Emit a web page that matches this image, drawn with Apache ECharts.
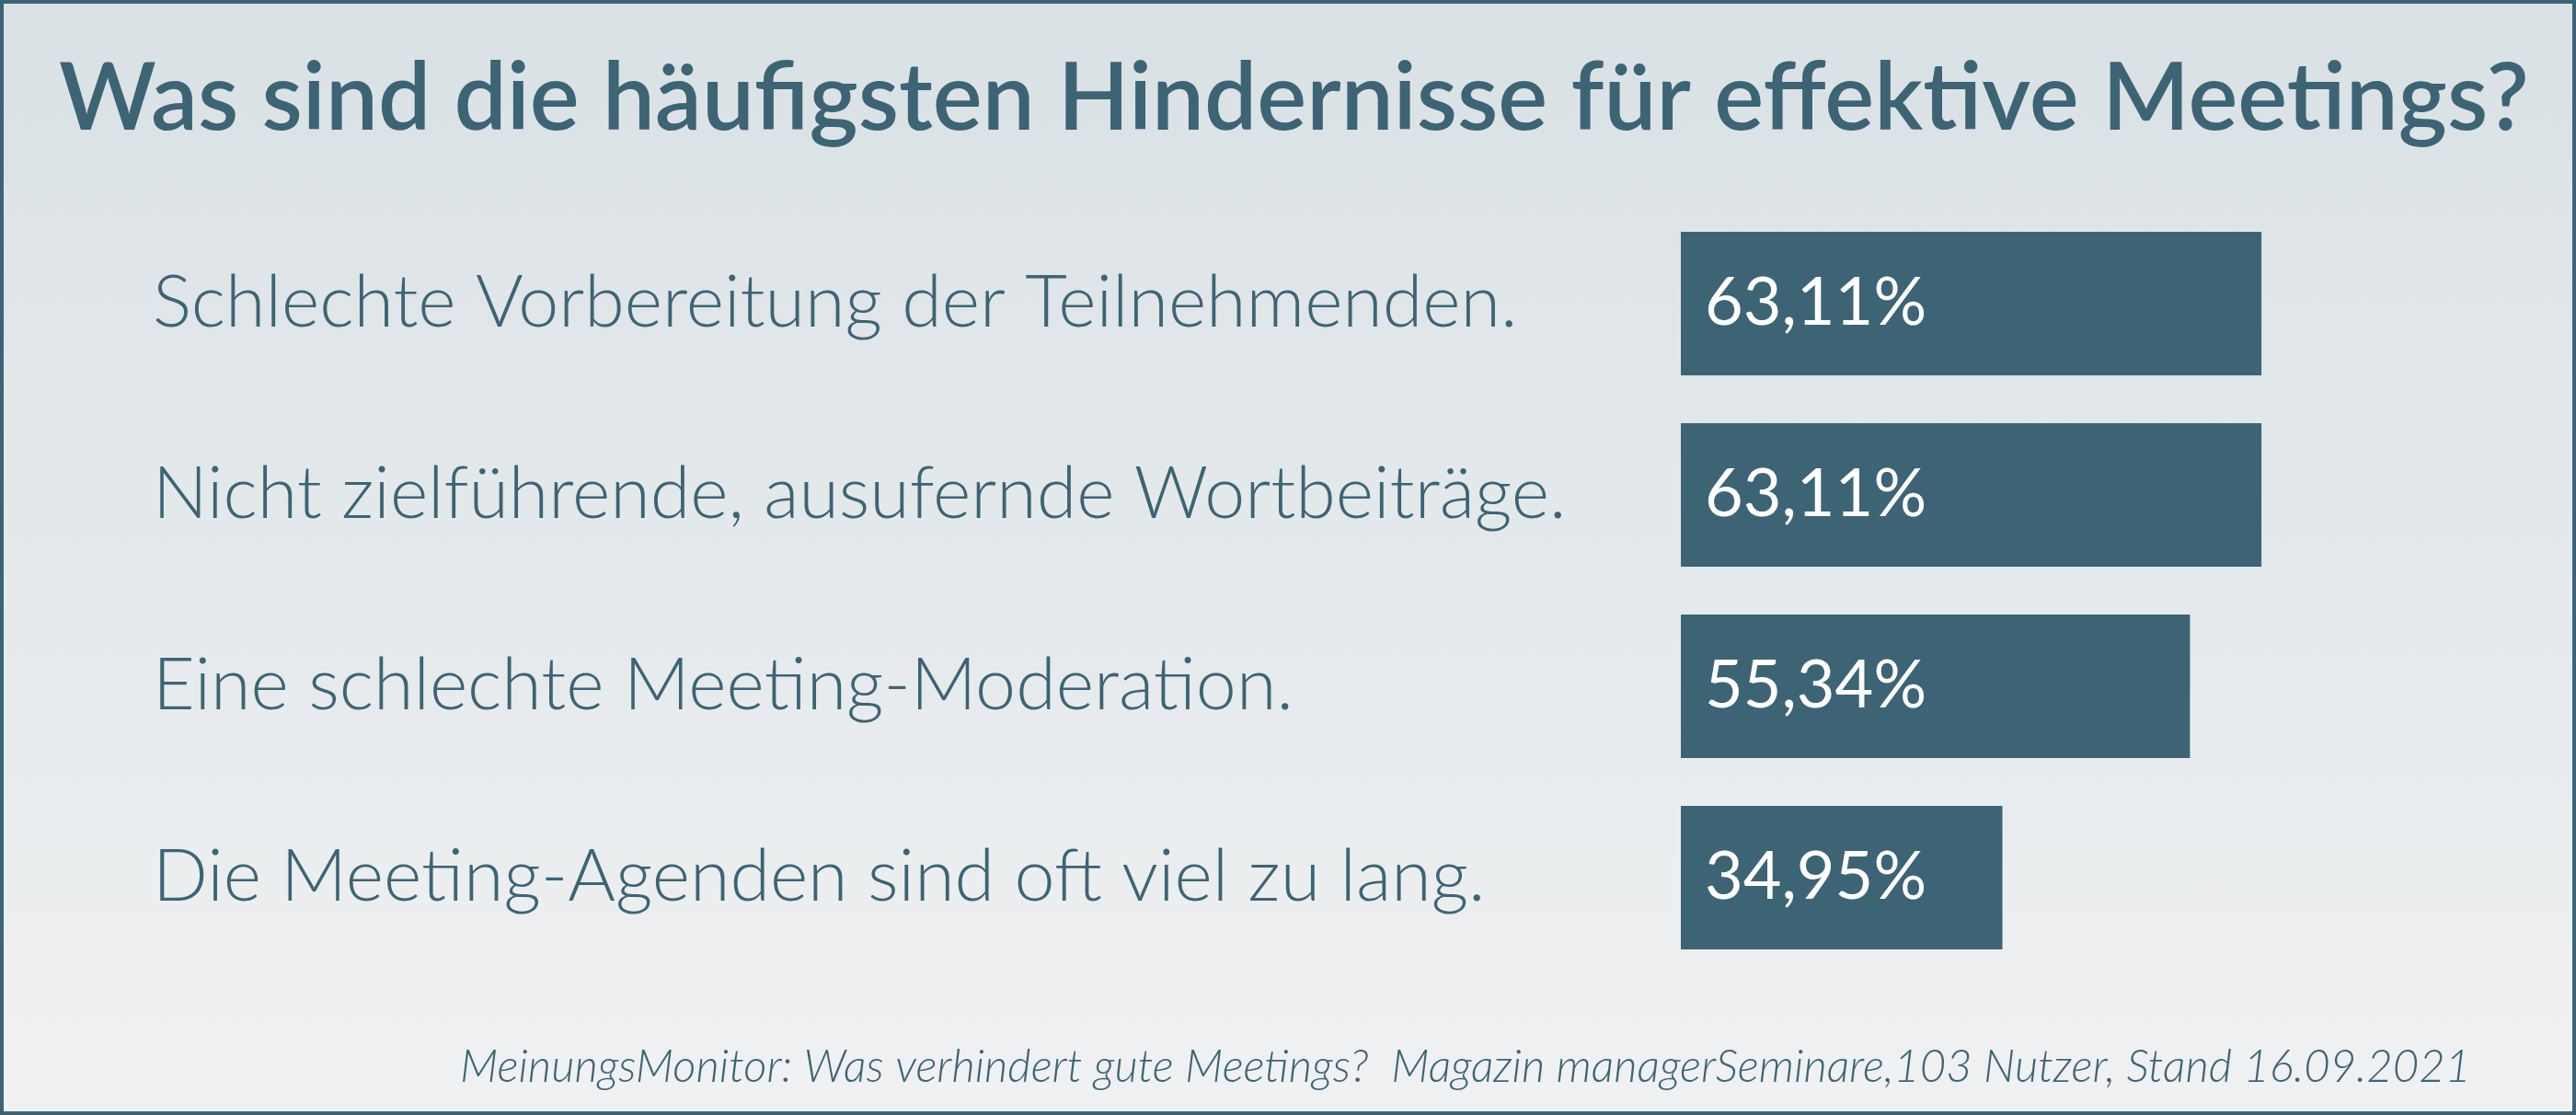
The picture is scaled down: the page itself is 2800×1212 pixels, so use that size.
<!DOCTYPE html>
<html><head><meta charset="utf-8">
<script src="https://cdn.jsdelivr.net/npm/echarts@6/dist/echarts.min.js"></script>
<style>html,body{margin:0;padding:0;background:#fff}#c{width:2800px;height:1212px}</style>
</head><body><div id="c"></div>
<script>
const titleText = 'Was sind die häufigsten Hindernisse für effektive Meetings?';
const sourceText = 'MeinungsMonitor: Was verhindert gute Meetings?  Magazin managerSeminare,103 Nutzer, Stand 16.09.2021';
const categories = [
  'Schlechte Vorbereitung der Teilnehmenden.',
  'Nicht zielführende, ausufernde Wortbeiträge.',
  'Eine schlechte Meeting-Moderation.',
  'Die Meeting-Agenden sind oft viel zu lang.'
];
const values = [63.11, 63.11, 55.34, 34.95];

const C = '#3d6475';
const chart = echarts.init(document.getElementById('c'), null, {renderer: 'canvas'});
chart.setOption({
  backgroundColor: {type: 'linear', x: 0, y: 0, x2: 0, y2: 1,
    colorStops: [{offset: 0, color: '#d9e1e5'}, {offset: 1, color: '#f0f1f2'}]},
  animation: false,
  graphic: [
    {type: 'rect', shape: {x: 2, y: 2, width: 2796, height: 1208},
     style: {fill: 'none', stroke: C, lineWidth: 4}, z: 100},
    {type: 'text', left: 64, top: 57,
     style: {text: titleText, fill: C, font: '600 101.5px Lato'}},
    {type: 'text', right: 114, top: 1136,
     style: {text: sourceText, fill: C, font: 'italic 300 49px Lato'}}
  ],
  grid: {left: 1827, top: 226, width: 700, height: 832, containLabel: false},
  xAxis: {type: 'value', min: 0, max: 70, show: false},
  yAxis: {type: 'category', data: categories, inverse: true,
    axisLine: {show: false}, axisTick: {show: false}, splitLine: {show: false},
    axisLabel: {align: 'left', margin: 1661, color: C, fontFamily: 'Lato', fontWeight: 300, fontSize: 79}},
  series: [{
    type: 'bar', data: values, barCategoryGap: '25%',
    itemStyle: {color: C},
    label: {show: true, position: 'insideLeft', distance: 26, color: '#ffffff',
      fontFamily: 'Lato', fontWeight: 400, fontSize: 72,
      formatter: p => p.value.toFixed(2).replace('.', ',') + '%'}
  }]
});
</script></body></html>
